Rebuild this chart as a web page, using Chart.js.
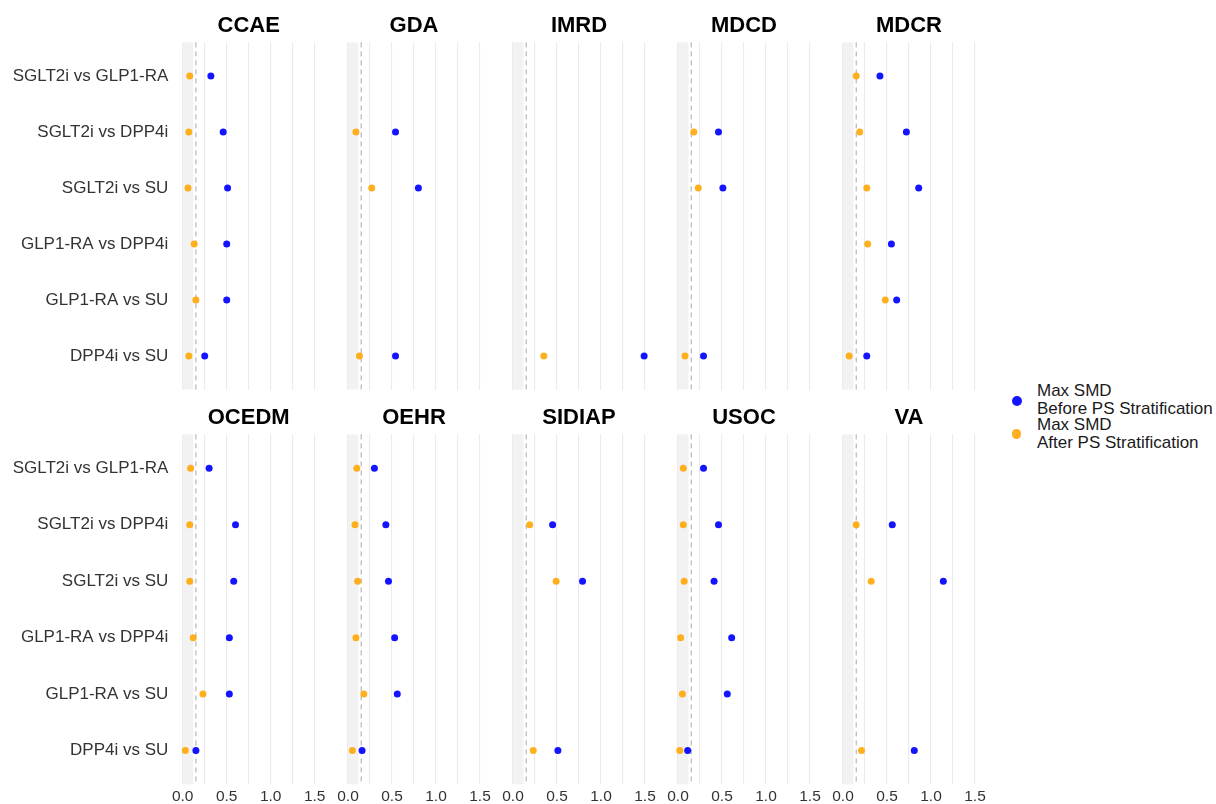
<!DOCTYPE html>
<html>
<head>
<meta charset="utf-8">
<script src="https://cdn.jsdelivr.net/npm/chart.js@4.4.0/dist/chart.umd.min.js"></script>
<style>
  body { margin: 0; background: #fff; }
  #wrap { position: relative; width: 1216px; height: 804px; overflow: hidden; background: #fff; }
  #wrap canvas { position: absolute; }
  .legend-dot { position: absolute; border-radius: 50%; }
  .legend-text { position: absolute; left: 1037px; font: 17px "Liberation Sans", Arial, sans-serif; line-height: 18px; color: #1a1a1a; white-space: nowrap; }
</style>
</head>
<body>
<div id="wrap"></div>
<script>
const databases = ['CCAE', 'GDA', 'IMRD', 'MDCD', 'MDCR', 'OCEDM', 'OEHR', 'SIDIAP', 'USOC', 'VA'];
const comparisons = ['SGLT2i vs GLP1-RA', 'SGLT2i vs DPP4i', 'SGLT2i vs SU', 'GLP1-RA vs DPP4i', 'GLP1-RA vs SU', 'DPP4i vs SU'];

// one row per database, one value per comparison (null = not estimated)
const beforePS = [
    [0.32, 0.46, 0.51, 0.50, 0.50, 0.25],   // CCAE
    [null, 0.54, 0.80, null, null, 0.54],   // GDA
    [null, null, null, null, null, 1.49],   // IMRD
    [null, 0.46, 0.51, null, null, 0.29],   // MDCD
    [0.42, 0.72, 0.86, 0.55, 0.61, 0.27],   // MDCR
    [0.30, 0.60, 0.58, 0.53, 0.53, 0.15],   // OCEDM
    [0.30, 0.43, 0.46, 0.53, 0.56, 0.16],   // OEHR
    [null, 0.45, 0.79, null, null, 0.51],   // SIDIAP
    [0.29, 0.46, 0.41, 0.61, 0.56, 0.11],   // USOC
    [null, 0.56, 1.14, null, null, 0.81]    // VA
];
const afterPS = [
    [0.08, 0.07, 0.06, 0.13, 0.15, 0.07],
    [null, 0.09, 0.27, null, null, 0.13],
    [null, null, null, null, null, 0.35],
    [null, 0.18, 0.23, null, null, 0.08],
    [0.15, 0.19, 0.27, 0.28, 0.48, 0.07],
    [0.09, 0.08, 0.08, 0.12, 0.23, 0.03],
    [0.10, 0.08, 0.11, 0.09, 0.18, 0.05],
    [null, 0.19, 0.49, null, null, 0.23],
    [0.06, 0.06, 0.07, 0.03, 0.05, 0.02],
    [null, 0.15, 0.32, null, null, 0.21]
];

const seriesNames = [['Max SMD', 'Before PS Stratification'], ['Max SMD', 'After PS Stratification']];
const seriesColors = ['rgba(0,0,255,0.92)', 'rgba(255,165,0,0.88)'];
const xMin = 0, xMax = 1.5, xStep = 0.25;
const bandEnd = 0.12;     // shaded region
const threshold = 0.15;   // dashed reference line

const FONT = '"Liberation Sans", Arial, sans-serif';
const wrap = document.getElementById('wrap');

// panel geometry
const panelLeft0 = 182.7, panelStep = 165, panelW = 132, panelH = 350;
const rows = [
    { top: 12.6, xAxisH: 0 },
    { top: 405.1, xAxisH: 19.5 }
];
const titleH = 22 * 1.2 + 3;

const bandPlugin = {
    id: 'band',
    beforeDatasetsDraw(chart) {
        const ctx = chart.ctx;
        const x = chart.scales.x;
        const { top, bottom } = chart.chartArea;
        ctx.save();
        ctx.fillStyle = '#F2F2F2';
        const x0 = x.getPixelForValue(0);
        ctx.fillRect(x0, top, x.getPixelForValue(bandEnd) - x0, bottom - top);
        ctx.strokeStyle = '#A8A8A8';
        ctx.lineWidth = 1;
        ctx.setLineDash([5, 4]);
        const tx = x.getPixelForValue(threshold);
        ctx.beginPath();
        ctx.moveTo(tx, top);
        ctx.lineTo(tx, bottom);
        ctx.stroke();
        ctx.restore();
    }
};

function toPoints(values) {
    return values.map((v, j) => v === null ? null : { x: v, y: j }).filter(p => p !== null);
}

databases.forEach((db, i) => {
    const row = Math.floor(i / 5);
    const col = i % 5;
    const r = rows[row];
    const yW = col === 0 ? panelLeft0 : 20;
    const left = panelLeft0 + panelStep * col - yW;
    const width = Math.ceil(yW + panelW + 16);
    const padRight = width - yW - panelW;
    const height = Math.ceil(titleH + panelH + r.xAxisH);
    const padBottom = height - titleH - panelH - r.xAxisH;

    const canvas = document.createElement('canvas');
    canvas.width = width;
    canvas.height = height;
    canvas.style.left = left + 'px';
    canvas.style.top = r.top + 'px';
    wrap.appendChild(canvas);

    new Chart(canvas.getContext('2d'), {
        type: 'scatter',
        data: {
            datasets: [
                { label: seriesNames[0].join(' '), data: toPoints(beforePS[i]), backgroundColor: seriesColors[0], clip: false },
                { label: seriesNames[1].join(' '), data: toPoints(afterPS[i]), backgroundColor: seriesColors[1], clip: false }
            ]
        },
        options: {
            responsive: false,
            animation: false,
            devicePixelRatio: 1,
            layout: { padding: { left: 0, top: 0, right: padRight, bottom: padBottom } },
            elements: { point: { radius: 3.5, borderWidth: 0, hoverRadius: 3.5 } },
            plugins: {
                legend: { display: false },
                tooltip: { enabled: false },
                title: {
                    display: true,
                    text: db,
                    fullSize: false,
                    color: '#000',
                    font: { family: FONT, size: 22, weight: 'bold' },
                    padding: { top: 0, bottom: 3 }
                }
            },
            scales: {
                x: {
                    type: 'linear',
                    min: xMin,
                    max: xMax,
                    grid: { color: '#EBEBEB', lineWidth: 1.1, drawTicks: false },
                    border: { display: false },
                    ticks: {
                        display: row === 1,
                        stepSize: xStep,
                        autoSkip: false,
                        maxRotation: 0,
                        padding: 3,
                        color: '#333',
                        font: { family: FONT, size: 15.5 },
                        callback: v => Math.abs(v * 2 - Math.round(v * 2)) < 1e-9 ? v.toFixed(1) : ''
                    },
                    afterFit: axis => {
                        axis.height = r.xAxisH;
                        axis.paddingLeft = 0;
                        axis.paddingRight = 0;
                    }
                },
                y: {
                    type: 'linear',
                    reverse: true,
                    min: -0.6,
                    max: comparisons.length - 0.4,
                    grid: { display: false, drawTicks: false },
                    border: { display: false },
                    afterBuildTicks: axis => { axis.ticks = comparisons.map((c, j) => ({ value: j })); },
                    ticks: {
                        display: col === 0,
                        padding: 14.4,
                        color: '#333',
                        font: { family: FONT, size: 17 },
                        callback: v => comparisons[v]
                    },
                    afterFit: axis => {
                        axis.width = yW;
                        axis.paddingTop = 0;
                        axis.paddingBottom = 0;
                    }
                }
            }
        },
        plugins: [bandPlugin]
    });
});

// legend
const legendDots = [{ cy: 400.7, r: 5 }, { cy: 434, r: 4.6 }];
seriesNames.forEach((lines, k) => {
    const dot = document.createElement('div');
    dot.className = 'legend-dot';
    const d = legendDots[k];
    dot.style.left = (1016.7 - d.r) + 'px';
    dot.style.top = (d.cy - d.r) + 'px';
    dot.style.width = dot.style.height = (2 * d.r) + 'px';
    dot.style.background = seriesColors[k];
    wrap.appendChild(dot);
    const txt = document.createElement('div');
    txt.className = 'legend-text';
    txt.style.top = (382 + 34 * k) + 'px';
    txt.innerHTML = lines.join('<br>');
    wrap.appendChild(txt);
});
</script>
</body>
</html>
